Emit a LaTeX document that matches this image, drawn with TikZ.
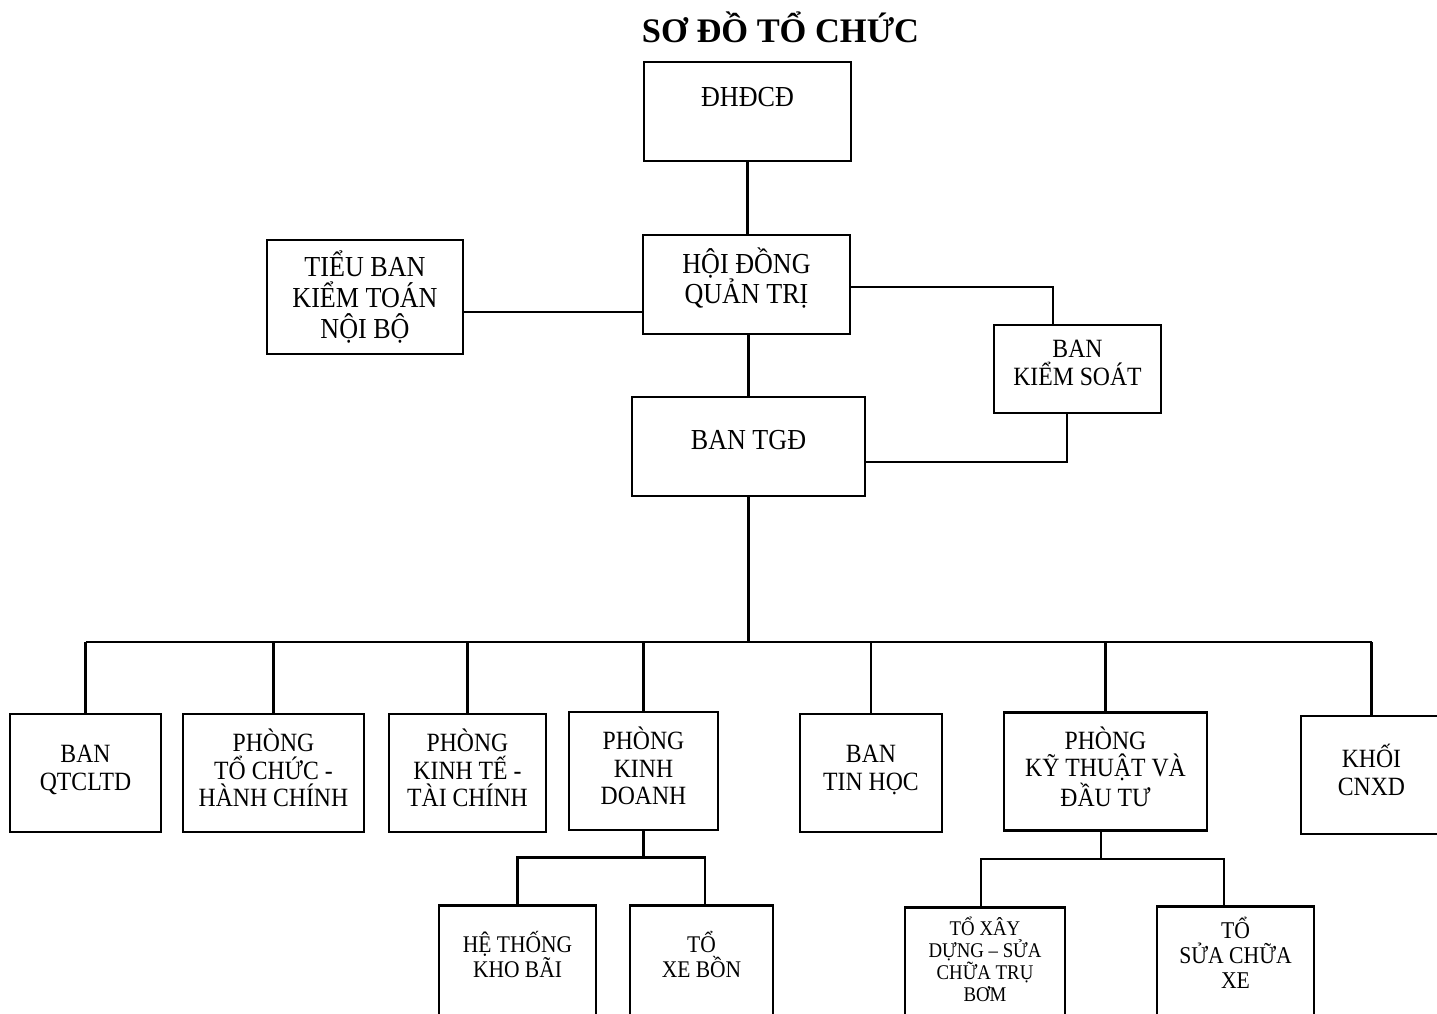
\documentclass[tikz,border=0pt]{standalone}
\usepackage{fontspec}
\setmainfont{Liberation Serif}[FakeStretch=0.9]
\newfontfamily\titlefont{Liberation Serif}
\usetikzlibrary{positioning}
\tikzset{
  orgline/.style={line width=1.5pt,draw=black},
  topbox/.style={draw=black,line width=1.6pt,align=center,
    font=\fontsize{16.5}{17.5}\selectfont,inner sep=0pt},
  deptbox/.style={draw=black,line width=1.6pt,align=center,
    minimum height=2.36cm,text depth=6pt,
    font=\fontsize{15}{15.6}\selectfont,inner sep=0pt},
  teambox/.style={draw=black,line width=1.6pt,align=center,anchor=north,
    inner sep=0pt},
}

\begin{document}
\begin{tikzpicture}[x=0.02cm,y=-0.02cm]
  \useasboundingbox (0,0) rectangle (1437,1014);
  \node[font=\titlefont\bfseries\fontsize{19.6}{21}\selectfont] (title) at (780.5,27) {SƠ ĐỒ TỔ CHỨC};

  % khoi lanh dao
  \node[topbox,minimum width=4.14cm,minimum height=1.98cm,text depth=17pt] (dhdcd) at (747.5,111.5) {ĐHĐCĐ};
  \node[topbox,minimum width=4.14cm,minimum height=1.98cm,text depth=10pt] (hdqt) at (746.5,284.5) {HỘI ĐỒNG\\QUẢN TRỊ};
  \node[topbox,minimum width=3.92cm,minimum height=2.28cm] (tieuban) at (365,297) {TIỂU BAN\\KIỂM TOÁN\\NỘI BỘ};
  \node[topbox,minimum width=4.66cm,minimum height=1.98cm,text depth=8pt] (tgd) at (748.5,446.5) {BAN TGĐ};
  \node[topbox,minimum width=3.34cm,minimum height=1.76cm,text depth=7pt,
    font=\fontsize{15}{16}\selectfont] (bks) at (1077.5,369) {BAN\\KIỂM SOÁT};

  \draw[orgline] (dhdcd) -- (dhdcd |- hdqt.north);
  \draw[orgline] (tgd.north |- hdqt.south) -- (tgd.north);
  \draw[orgline] ([yshift=-0.3cm]tieuban.east) -- ([yshift=-0.3cm]tieuban.east -| hdqt.west);
  \draw[orgline] ([yshift=-0.05cm]hdqt.east) -| ([xshift=-0.49cm]bks.north);
  \draw[orgline] ([xshift=-0.21cm]bks.south) |- ([yshift=-0.31cm]tgd.east);

  % cac phong ban
  \coordinate (bus) at (752,642);
  \node[deptbox,minimum width=3.02cm] (qtcltd) at (85.5,773) {BAN\\QTCLTD};
  \node[deptbox,minimum width=3.62cm] (tchc) at (273.5,773) {PHÒNG\\TỔ CHỨC -\\HÀNH CHÍNH};
  \node[deptbox,minimum width=3.14cm] (ktetc) at (467.5,773) {PHÒNG\\KINH TẾ -\\TÀI CHÍNH};
  \node[deptbox,minimum width=2.98cm] (kdoanh) at (643.5,771) {PHÒNG\\KINH\\DOANH};
  \node[deptbox,minimum width=2.84cm] (tinhoc) at (871,773) {BAN\\TIN HỌC};
  \node[deptbox,minimum width=4.06cm] (ktdt) at (1105.5,771.5) {PHÒNG\\KỸ THUẬT VÀ\\ĐẦU TƯ};
  \node[deptbox,minimum width=2.82cm] (khoi) at (1371.5,775) {KHỐI\\CNXD};

  \draw[orgline] (tgd.south) -- (tgd.south |- bus);
  \draw[orgline] (qtcltd.north |- bus) -- (khoi.north |- bus);
  \foreach \p in {qtcltd,tchc,ktetc,kdoanh,tinhoc,ktdt,khoi}
    \draw[orgline] (\p.north) -- (\p.north |- bus);

  % to, he thong truc thuoc
  \node[teambox,minimum width=3.14cm,minimum height=2.52cm,text depth=16pt,
    font=\fontsize{13.6}{14.2}\selectfont] (khobai) at (517.5,904) {HỆ THỐNG\\KHO BÃI};
  \node[teambox,minimum width=2.86cm,minimum height=2.52cm,text depth=16pt,
    font=\fontsize{13.6}{14.2}\selectfont] (xebon) at (701.5,904) {TỔ\\XE BỒN};
  \node[teambox,minimum width=3.2cm,minimum height=2.48cm,text depth=12pt,
    font=\fontsize{11.9}{12.5}\selectfont] (xaydung) at (985,906) {TỔ XÂY\\DỰNG – SỬA\\CHỮA TRỤ\\BƠM};
  \node[teambox,minimum width=3.14cm,minimum height=2.5cm,text depth=18pt,
    font=\fontsize{13.7}{14.2}\selectfont] (suachua) at (1235.5,905) {TỔ\\SỬA CHỮA\\XE};

  \draw[orgline] (kdoanh.south) -- ++(0,-0.52cm) coordinate (kdbus);
  \draw[orgline] (khobai.north) |- (kdbus) -| ([xshift=0.07cm]xebon.north);
  \draw[orgline] ([xshift=-0.09cm]ktdt.south) -- ++(0,-0.54cm) coordinate (ktbus);
  \draw[orgline] ([xshift=-0.08cm]xaydung.north) |- (ktbus) -| ([xshift=-0.23cm]suachua.north);
\end{tikzpicture}
\end{document}
